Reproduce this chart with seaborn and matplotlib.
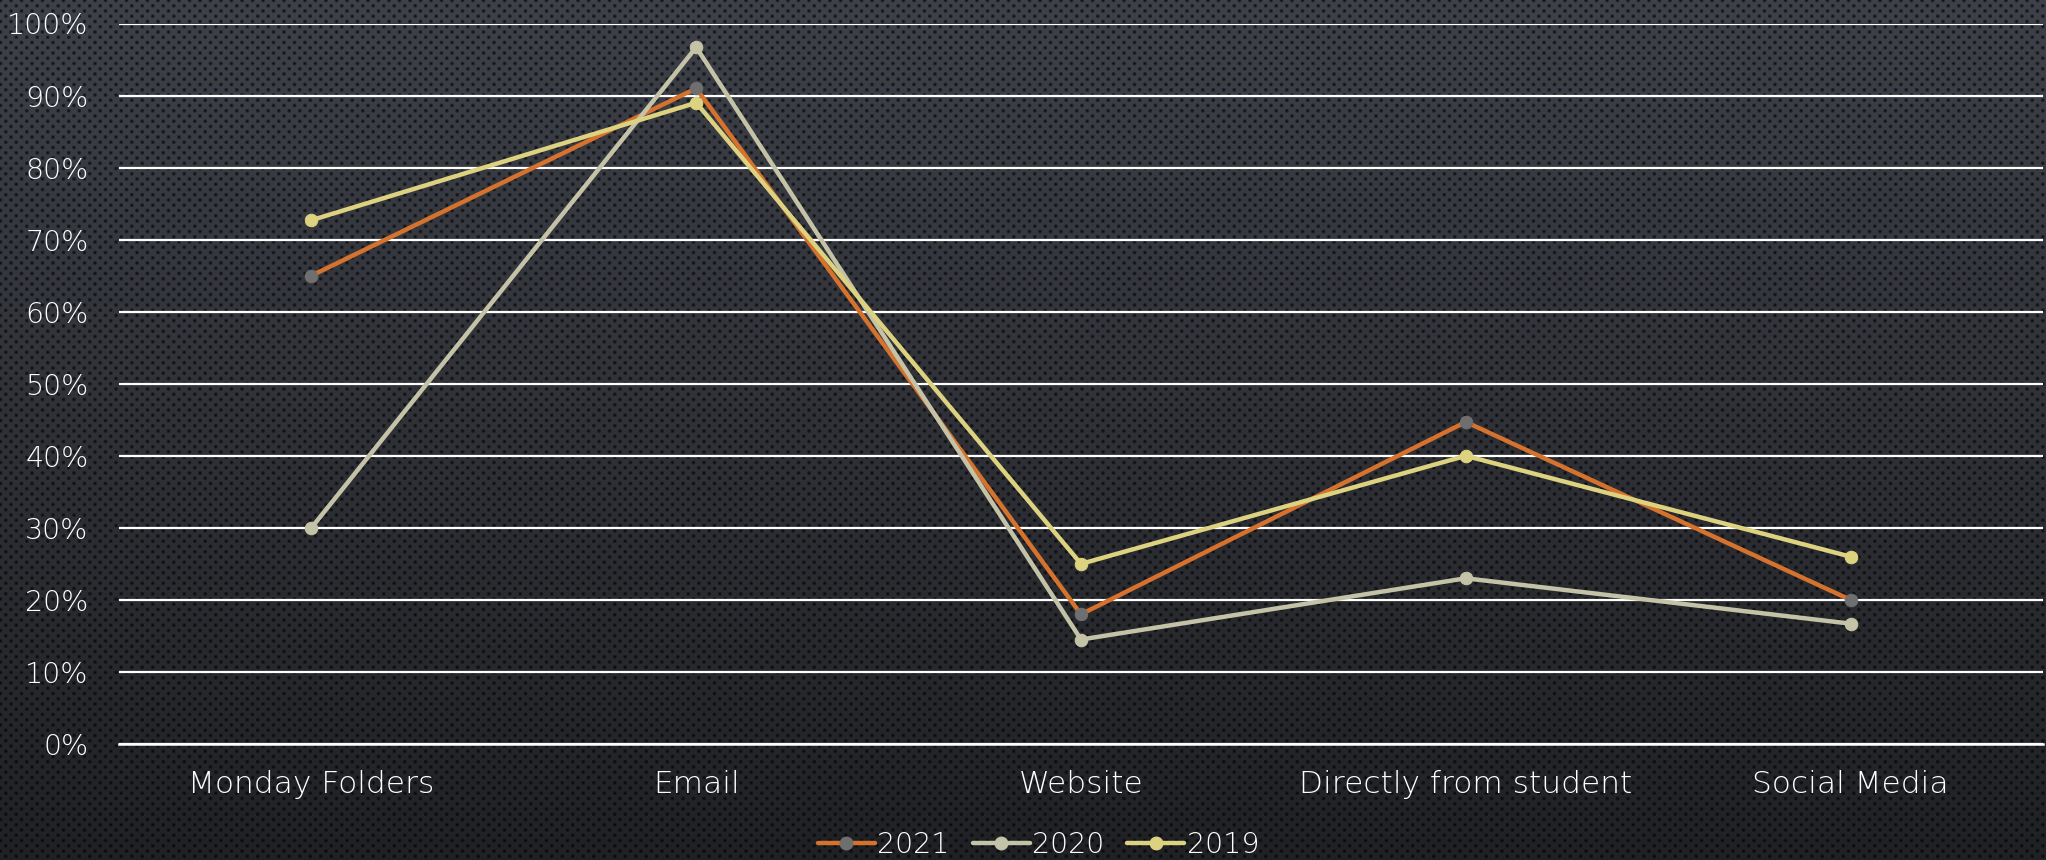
import numpy as np
import pandas as pd
import matplotlib
matplotlib.use("Agg")
import matplotlib.pyplot as plt
import seaborn as sns
from matplotlib.lines import Line2D
from matplotlib.ticker import PercentFormatter, FixedLocator

categories = ["Monday Folders", "Email", "Website", "Directly from student", "Social Media"]
years = ["2021", "2020", "2019"]
vals_2021 = [0.65, 0.91, 0.18, 0.447, 0.20]
vals_2020 = [0.30, 0.967, 0.145, 0.23, 0.167]
vals_2019 = [0.727, 0.89, 0.25, 0.40, 0.26]

line_colors = {"2021": "#D4722E", "2020": "#C4C3A8", "2019": "#DDD27F"}
marker_colors = {"2021": "#6F6F70", "2020": "#C4C3A8", "2019": "#DDD27F"}

df = pd.DataFrame({
    "Source": categories * 3,
    "Share": vals_2021 + vals_2020 + vals_2019,
    "Year": [y for y in years for _ in categories],
})

sns.set_style("dark")
plt.rcParams["font.family"] = ["DejaVu Sans"]
plt.rcParams["font.weight"] = "light"

W, H = 2046, 860
fig = plt.figure(figsize=(W / 100, H / 100), dpi=100)

# dark dotted background texture
yy, xx = np.mgrid[0:H, 0:W].astype(float)
t = yy / H
base = np.zeros((H, W, 3))
top = np.array([62, 65, 73]) / 255
bot = np.array([32, 33, 36]) / 255
for c in range(3):
    base[..., c] = top[c] * (1 - t) + bot[c] * t
p = 10.5
f = np.cos(2 * np.pi * xx / p) * np.cos(2 * np.pi * yy / p)
dots = np.clip((f - 0.2) / 0.8, 0, 1)
img = base * (1 - 0.7 * dots[..., None])
fig.figimage(np.clip(img, 0, 1), xo=0, yo=0, origin="upper", zorder=-10)
fig.patch.set_facecolor("#26282c")

ax = fig.add_axes([119 / W, 1 - 744 / H, (2043 - 119) / W, (744 - 23.5) / H])
ax.set_facecolor("none")
ax.patch.set_alpha(0)

for yr in years:
    sub = df[df["Year"] == yr]
    sns.lineplot(data=sub, x="Source", y="Share", ax=ax, color=line_colors[yr],
                 linewidth=3.2, marker="o", markersize=9,
                 markerfacecolor=marker_colors[yr], markeredgecolor=marker_colors[yr],
                 sort=False, legend=False, zorder=3)

ax.set_xlim(-0.5, len(categories) - 0.5)
ax.set_ylim(0, 1.0)
ax.yaxis.set_major_locator(FixedLocator(np.arange(0, 1.01, 0.1)))
ax.yaxis.set_major_formatter(PercentFormatter(1.0, decimals=0))
ax.grid(axis="y", color="white", linewidth=1.6, zorder=1)
ax.grid(axis="x", visible=False)
ax.set_axisbelow(True)

for s in ["top", "right", "left"]:
    ax.spines[s].set_visible(False)
ax.spines["bottom"].set_color("white")
ax.spines["bottom"].set_linewidth(1.8)
ax.spines["bottom"].set_zorder(2)

ax.set_xticks(range(len(categories)))
ax.set_xticklabels(categories)
ax.set_xticks(np.arange(-0.5, len(categories), 1.0), minor=True)
ax.tick_params(axis="x", which="major", length=0, pad=19, labelsize=22.5, colors="white")
ax.tick_params(axis="x", which="minor", length=8, width=1.5, color="white", direction="out")
ax.tick_params(axis="y", length=0, pad=22, labelsize=20.5, colors="white")
ax.set_xlabel("")
ax.set_ylabel("")

handles = [Line2D([0], [0], color=line_colors[y], linewidth=3.2, marker="o", markersize=9,
                  markerfacecolor=marker_colors[y], markeredgecolor=marker_colors[y])
           for y in years]
leg = ax.legend(handles, years, loc="center", bbox_to_anchor=(0.478, -0.14), ncol=3,
                frameon=False, fontsize=20.5, handlelength=2.0, handletextpad=0.1,
                columnspacing=0.8, borderaxespad=0)
for txt in leg.get_texts():
    txt.set_color("white")

fig.savefig("out.png", dpi=100, facecolor=fig.get_facecolor())
